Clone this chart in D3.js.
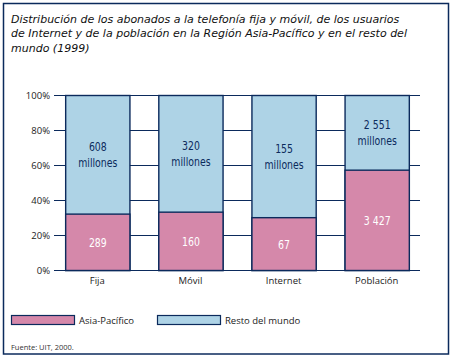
<!DOCTYPE html>
<html><head><meta charset="utf-8">
<script src="https://cdn.jsdelivr.net/npm/d3@7/dist/d3.min.js"></script>
<style>
html,body{margin:0;padding:0;background:#fff;}
svg{display:block;}
</style></head>
<body>
<script>
const categories = ["Fija", "Móvil", "Internet", "Población"];
const asiaValues = [289, 160, 67, 3427];
const restValues = [608, 320, 155, 2551];
const asiaLabels = ["289", "160", "67", "3 427"];
const restLabels = ["608", "320", "155", "2 551"];
const yTicks = [0, 20, 40, 60, 80, 100];
const seriesNames = ["Asia-Pacífico", "Resto del mundo"];
const titleLines = [
  "Distribución de los abonados a la telefonía fija y móvil, de los usuarios",
  "de Internet y de la población en la Región Asia-Pacífico y en el resto del",
  "mundo (1999)"
];
const source = "Fuente: UIT, 2000.";

const W = 453, H = 360;
const navy = "#0b2a5c", pink = "#d588aa", blue = "#aed3e6";
const font = "'Open Sans', Lato, sans-serif";
const dv = "'DejaVu Sans', sans-serif";

const svg = d3.select("body").append("svg").attr("width", W).attr("height", H);

svg.append("rect").attr("x", 3.5).attr("y", 3.5).attr("width", 445).attr("height", 350.5)
  .attr("fill", "#fff").attr("stroke", navy).attr("stroke-width", 1.5);

// title
const title = svg.append("text").attr("font-family", dv).attr("font-style", "italic")
  .attr("font-size", 11).attr("fill", "#111");
titleLines.forEach((t, i) => {
  title.append("tspan").attr("x", 11).attr("y", 22.5 + i * 14.8).text(t);
});

const x = d3.scaleBand().domain(categories).range([54, 420]).paddingInner(0.31).paddingOuter(0.12);
const y = d3.scaleLinear().domain([0, 100]).range([270, 95]);

// gridlines
svg.append("g").selectAll("line").data(yTicks).join("line")
  .attr("x1", 54).attr("x2", 420)
  .attr("y1", d => y(d) + 0.5).attr("y2", d => y(d) + 0.5)
  .attr("stroke", navy).attr("stroke-width", 1.2);

// y axis labels
const yAxis = d3.axisLeft(y).tickValues(yTicks).tickFormat(d => d + "%").tickSize(0).tickPadding(4);
const ya = svg.append("g").attr("transform", "translate(54,0.5)").call(yAxis);
ya.select(".domain").remove();
ya.selectAll("text").attr("font-family", font).attr("font-size", 9.5).attr("fill", "#222");

// x axis labels
const xAxis = d3.axisBottom(x).tickSize(0).tickPadding(7);
const xa = svg.append("g").attr("transform", "translate(0,270)").call(xAxis);
xa.select(".domain").remove();
xa.selectAll("text").attr("font-family", font).attr("font-size", 9.5).attr("fill", "#222");

const data = categories.map((c, i) => {
  const tot = asiaValues[i] + restValues[i];
  return {c, asia: asiaValues[i] / tot * 100, al: asiaLabels[i], rl: restLabels[i]};
});

const bars = svg.append("g");
bars.selectAll("rect.rest").data(data).join("rect").attr("class", "rest")
  .attr("x", d => x(d.c) + 0.5).attr("width", x.bandwidth())
  .attr("y", y(100) + 0.5).attr("height", y(0) - y(100))
  .attr("fill", blue).attr("stroke", navy).attr("stroke-width", 1.4);
bars.selectAll("rect.asia").data(data).join("rect").attr("class", "asia")
  .attr("x", d => x(d.c) + 0.5).attr("width", x.bandwidth())
  .attr("y", d => y(d.asia) + 0.5).attr("height", d => y(0) - y(d.asia))
  .attr("fill", pink).attr("stroke", navy).attr("stroke-width", 1.4);

// labels (condensed look via horizontal scale)
const lab = svg.append("g").attr("font-family", dv).attr("font-size", 12).attr("text-anchor", "middle");
function put(cx, yy, txt, col) {
  lab.append("text").attr("transform", `translate(${cx},${yy}) scale(0.78,1)`)
    .attr("fill", col).text(txt);
}
data.forEach(d => {
  const cx = x(d.c) + x.bandwidth() / 2 + 0.5;
  const ym = (y(100) + y(d.asia)) / 2;
  put(cx, ym - 3, d.rl, navy);
  put(cx, ym + 12.5, "millones", navy);
  put(cx, (y(d.asia) + y(0)) / 2 + 5, d.al, "#fff");
});

// legend
const lg = svg.append("g");
const lx = [11, 157];
seriesNames.forEach((s, i) => {
  lg.append("rect").attr("x", lx[i] + 0.5).attr("y", 315.5).attr("width", 63).attr("height", 9)
    .attr("fill", i === 0 ? pink : blue).attr("stroke", navy).attr("stroke-width", 1.2);
  lg.append("text").attr("x", lx[i] + 68).attr("y", 323.5).attr("font-family", font)
    .attr("font-size", 9.5).attr("fill", "#222").text(s);
});

svg.append("text").attr("x", 11).attr("y", 350).attr("font-family", font)
  .attr("font-size", 7.5).attr("fill", "#333").text(source);
</script>
</body></html>
